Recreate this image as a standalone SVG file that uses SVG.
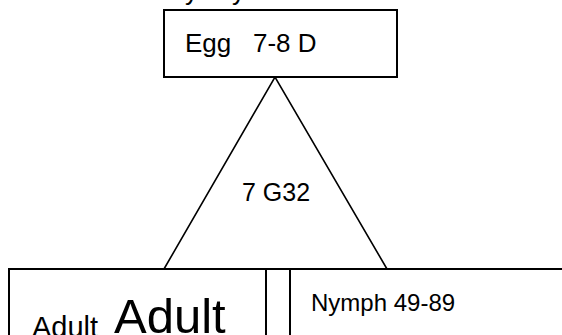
<svg xmlns="http://www.w3.org/2000/svg" width="562" height="335" viewBox="0 0 562 335">
  <style>
    .box { fill: #ffffff; stroke: #000000; stroke-width: 2; }
    .edge { fill: none; stroke: #000000; stroke-width: 1.6; }
    .lbl { font-family: "Liberation Sans", Arial, sans-serif; fill: #000000; white-space: pre; }
  </style>
  <rect width="562" height="335" fill="#ffffff"/>

  <!-- heading line running off the top edge -->
  <text class="lbl" x="185" y="0" font-size="26">y</text>
  <text class="lbl" x="232" y="0" font-size="26">y</text>

  <!-- connectors: triangle linking the egg stage to the lower stages -->
  <g id="connectors">
    <polyline class="edge" points="164,269 275,77 387,269"/>
  </g>

  <g id="egg">
    <rect class="box" x="164" y="10" width="233" height="67"/>
    <text class="lbl" x="185" y="52" font-size="26" xml:space="preserve">Egg   7-8 D</text>
  </g>

  <g id="cycle-label">
    <text class="lbl" x="242" y="201" font-size="25">7 G32</text>
  </g>

  <g id="adult">
    <rect class="box" x="9" y="269" width="257" height="100"/>
    <text class="lbl" x="32" y="337" font-size="29">Adult</text>
    <text class="lbl" x="114" y="333" font-size="49">Adult</text>
  </g>

  <g id="gap">
    <line class="box" x1="266" y1="269" x2="290" y2="269"/>
  </g>

  <g id="nymph">
    <rect class="box" x="290" y="269" width="320" height="100"/>
    <text class="lbl" x="311" y="311" font-size="24">Nymph 49-89</text>
  </g>
</svg>
